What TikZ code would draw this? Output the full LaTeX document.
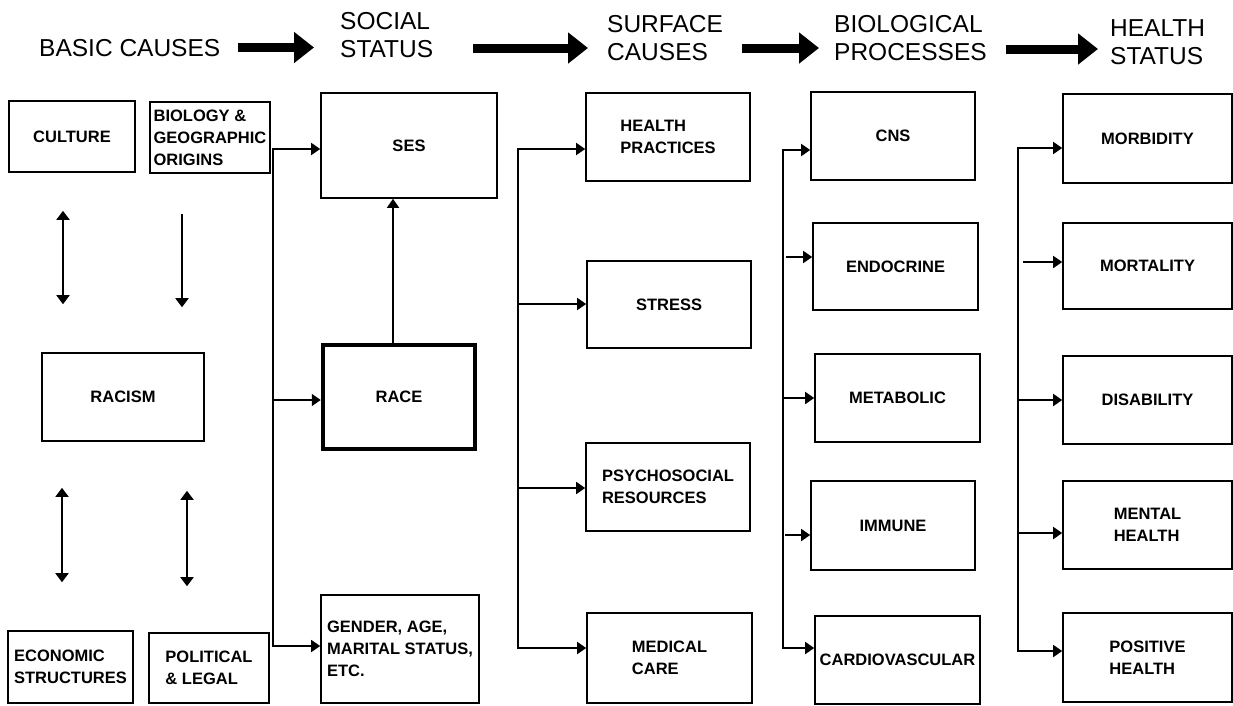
\documentclass[tikz,border=0pt]{standalone}
\usepackage{fontspec}
\setmainfont{Liberation Sans}
\usetikzlibrary{arrows.meta}

\begin{document}
\begin{tikzpicture}[x=1pt,y=-1pt,
  box/.style={draw, line width=1.6pt, inner sep=0pt, align=left, font=\bfseries\fontsize{16.5}{22}\selectfont},
  head/.style={anchor=west, inner sep=0pt, align=left, font=\fontsize{24.5}{28}\selectfont},
  fat/.style={line width=9pt, -{Triangle[length=20pt,width=30pt]}},
  tip/.style={line width=1.6pt, -{Triangle[length=9pt,width=12pt]}},
  down/.style={line width=1.8pt, -{Triangle[length=9pt,width=13pt]}},
  both/.style={line width=1.8pt, {Triangle[length=9pt,width=13pt]}-{Triangle[length=9pt,width=13pt]}},
  trunk/.style={line width=1.6pt, line cap=rect}]
\useasboundingbox (0,0) rectangle (1233,705);

% column heads
\node[head] (basic) at (39,48) {BASIC CAUSES};
\node[head] (social) at (340,35.5) {SOCIAL\\STATUS};
\node[head] (surface) at (607,38.5) {SURFACE\\CAUSES};
\node[head] (bioproc) at (834,38) {BIOLOGICAL\\PROCESSES};
\node[head] (health) at (1110,42) {HEALTH\\STATUS};
\draw[fat] ([xshift=18pt,yshift=0.5pt]basic.east) -- ([xshift=-26pt,yshift=-12pt]social.west);
\draw[fat] ([xshift=40pt,yshift=-12.5pt]social.east) -- ([xshift=-19pt,yshift=-9.5pt]surface.west);
\draw[fat] ([xshift=19pt,yshift=-9.5pt]surface.east) -- ([xshift=-15pt,yshift=-10pt]bioproc.west);
\draw[fat] ([xshift=19pt,yshift=-11pt]bioproc.east) -- ([xshift=-12pt,yshift=-7pt]health.west);

% basic causes
\node[box, minimum width=126pt, minimum height=71pt] (culture) at (72,136.5) {CULTURE};
\node[box, minimum width=120pt, minimum height=71pt] (bio) at (210,137.5) {BIOLOGY \&\\GEOGRAPHIC\\ORIGINS};
\node[box, minimum width=162pt, minimum height=88pt] (racism) at (123,397) {RACISM};
\node[box, minimum width=125pt, minimum height=72pt] (econ) at (70.5,667) {ECONOMIC\\STRUCTURES};
\node[box, minimum width=120pt, minimum height=70pt] (pol) at (209,668) {POLITICAL\\\& LEGAL};
\draw[both, shorten <=38pt, shorten >=48pt] ([xshift=-9pt]culture.south) -- ([xshift=-9pt]culture.south |- racism.north);
\draw[down, shorten <=40pt, shorten >=45pt] ([xshift=-28pt]bio.south) -- ([xshift=-28pt]bio.south |- racism.north);
\draw[both, shorten <=46pt, shorten >=48pt] ([xshift=-8.5pt]econ.north |- racism.south) -- ([xshift=-8.5pt]econ.north);
\draw[both, shorten <=49pt, shorten >=46pt] ([xshift=-22pt]pol.north |- racism.south) -- ([xshift=-22pt]pol.north);

% social status
\node[box, minimum width=176pt, minimum height=105pt] (ses) at (409,145.5) {SES};
\node[box, line width=4.5pt, minimum width=152pt, minimum height=104pt] (race) at (399,397) {RACE};
\node[box, minimum width=158pt, minimum height=108pt] (gender) at (400,649) {GENDER, AGE,\\MARITAL STATUS,\\ETC.};
\coordinate (s1) at (273,149);
\coordinate (s2) at (273,400);
\coordinate (s3) at (273,646);
\draw[trunk] (s1) -- (s3);
\draw[tip] (s1) -- (s1 -| ses.west);
\draw[tip] (s2) -- (s2 -| race.west);
\draw[tip] (s3) -- (s3 -| gender.west);
\draw[tip] ([xshift=-6pt]race.north) -- ([xshift=-6pt]race.north |- ses.south);

% surface causes
\node[box, minimum width=164pt, minimum height=88pt] (practice) at (668,137) {HEALTH\\PRACTICES};
\node[box, minimum width=164pt, minimum height=87pt] (stress) at (669,304.5) {STRESS};
\node[box, minimum width=164pt, minimum height=88pt] (psych) at (668,487) {PSYCHOSOCIAL\\RESOURCES};
\node[box, minimum width=165pt, minimum height=90pt] (medical) at (669.5,658) {MEDICAL\\CARE};
\coordinate (c1) at (518,149);
\coordinate (c2) at (518,304);
\coordinate (c3) at (518,488);
\coordinate (c4) at (518,648);
\draw[trunk] (c1) -- (c4);
\draw[tip] (c1) -- (c1 -| practice.west);
\draw[tip] (c2) -- (c2 -| stress.west);
\draw[tip] (c3) -- (c3 -| psych.west);
\draw[tip] (c4) -- (c4 -| medical.west);

% biological processes
\node[box, minimum width=164pt, minimum height=88pt] (cns) at (893,136) {CNS};
\node[box, minimum width=165pt, minimum height=87pt] (endo) at (895.5,266.5) {ENDOCRINE};
\node[box, minimum width=165pt, minimum height=88pt] (meta) at (897.5,398) {METABOLIC};
\node[box, minimum width=164pt, minimum height=89pt] (immune) at (893,525.5) {IMMUNE};
\node[box, minimum width=165pt, minimum height=88pt] (cardio) at (897.5,660) {CARDIOVASCULAR};
\coordinate (b1) at (783,150);
\coordinate (b2) at (786,257);
\coordinate (b3) at (783,398);
\coordinate (b4) at (785,535);
\coordinate (b5) at (783,648);
\draw[trunk] (b1) -- (b5);
\draw[tip] (b1) -- (b1 -| cns.west);
\draw[tip] (b2) -- (b2 -| endo.west);
\draw[tip] (b3) -- (b3 -| meta.west);
\draw[tip] (b4) -- (b4 -| immune.west);
\draw[tip] (b5) -- (b5 -| cardio.west);

% health status
\node[box, minimum width=169pt, minimum height=89pt] (morb) at (1147.5,138.5) {MORBIDITY};
\node[box, minimum width=169pt, minimum height=86pt] (mort) at (1147.5,266) {MORTALITY};
\node[box, minimum width=169pt, minimum height=88pt] (disab) at (1147.5,400) {DISABILITY};
\node[box, minimum width=169pt, minimum height=88pt] (mental) at (1147.5,525) {MENTAL\\HEALTH};
\node[box, minimum width=169pt, minimum height=89pt] (positive) at (1147.5,657.5) {POSITIVE\\HEALTH};
\coordinate (h1) at (1018,148);
\coordinate (h2) at (1023,262);
\coordinate (h3) at (1018,400);
\coordinate (h4) at (1018,533);
\coordinate (h5) at (1018,651);
\draw[trunk] (h1) -- (h5);
\draw[tip] (h1) -- (h1 -| morb.west);
\draw[tip] (h2) -- (h2 -| mort.west);
\draw[tip] (h3) -- (h3 -| disab.west);
\draw[tip] (h4) -- (h4 -| mental.west);
\draw[tip] (h5) -- (h5 -| positive.west);

\end{tikzpicture}
\end{document}
